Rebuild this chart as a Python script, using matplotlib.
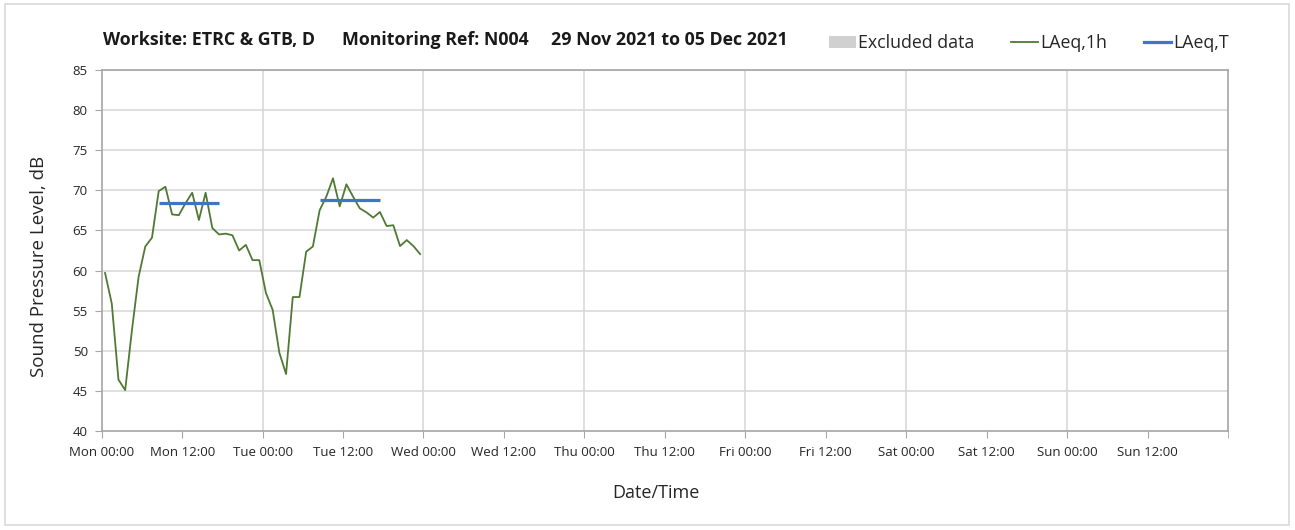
import matplotlib
matplotlib.use("Agg")
import matplotlib.pyplot as plt
from matplotlib.patches import Patch, Rectangle
from matplotlib.lines import Line2D
import numpy as np

# ---- data ----
hours = list(range(48))  # hourly periods starting Mon 00:00
laeq_1h = [59.7, 55.9, 46.4, 45.1, 52.5, 59.2, 63.0, 64.1, 69.9, 70.45,
           67.0, 66.9, 68.4, 69.7, 66.3, 69.7, 65.3, 64.5, 64.6, 64.4,
           62.5, 63.2, 61.3, 61.3, 57.2, 55.1, 49.75, 47.1, 56.7, 56.7,
           62.35, 63.0, 67.5, 69.2, 71.5, 68.0, 70.75, 69.2, 67.75, 67.25,
           66.6, 67.3, 65.55, 65.65, 63.05, 63.8, 63.05, 62.05]
laeq_T_hours = [[8, 17], [32, 41]]
laeq_T_values = [68.4, 68.8]
tick_labels = ["Mon 00:00", "Mon 12:00", "Tue 00:00", "Tue 12:00", "Wed 00:00",
               "Wed 12:00", "Thu 00:00", "Thu 12:00", "Fri 00:00", "Fri 12:00",
               "Sat 00:00", "Sat 12:00", "Sun 00:00", "Sun 12:00"]
title_parts = ["Worksite: ETRC & GTB, D", "Monitoring Ref: N004",
               "29 Nov 2021 to 05 Dec 2021"]

plt.rcParams['font.family'] = ['Open Sans', 'DejaVu Sans']

W, H = 1295, 530
fig = plt.figure(figsize=(W / 100, H / 100), dpi=100)
ax = fig.add_axes([101.7 / W, 1 - 431 / H, (1228 - 101.7) / W, (431 - 70) / H])

green = '#4f7a34'
blue = '#4472c4'
grid_c = '#d9d9d9'
spine_c = '#a6a6a6'
text_c = '#262626'

x = np.array(hours) + 0.5
ax.plot(x, laeq_1h, color=green, lw=1.3, zorder=3)
for (h0, h1), v in zip(laeq_T_hours, laeq_T_values):
    ax.plot([h0 + 0.5, h1 + 0.5], [v, v], color=blue, lw=2.3, zorder=4,
            solid_capstyle='butt')

ax.set_xlim(0, 168)
ax.set_ylim(40, 85)
ax.set_yticks(np.arange(40, 86, 5))
ax.set_xticks(np.arange(0, 168, 12))
ax.set_xticklabels(tick_labels)
ax.set_xticks(np.arange(0, 169, 24), minor=True)

ax.grid(False)
for yv in np.arange(45, 86, 5):
    ax.axhline(yv, color=grid_c, lw=1.2, zorder=1)
for xv in np.arange(24, 168, 24):
    ax.axvline(xv, color=grid_c, lw=1.2, zorder=1)

for s in ax.spines.values():
    s.set_color(spine_c)
    s.set_linewidth(1.2)

ax.tick_params(axis='x', which='major', length=5, color=spine_c, labelsize=9.5,
               labelcolor=text_c, pad=6)
ax.tick_params(axis='x', which='minor', length=5, color=spine_c)
ax.tick_params(axis='y', length=5, color=spine_c, labelsize=9.5,
               labelcolor=text_c, pad=5)

ax.set_ylabel("Sound Pressure Level, dB", fontsize=13.5, color=text_c)
ax.yaxis.set_label_coords((39 - 101.7) / (1228 - 101.7), (431 - 266) / 361)
ax.set_xlabel("Date/Time", fontsize=13, color=text_c)
ax.xaxis.set_label_coords((656 - 101.7) / (1228 - 101.7), -(493 - 431) / 361)
ax.xaxis.label.set_va('center')
ax.yaxis.label.set_va('center')

for px, t in zip([103, 342, 551], title_parts):
    fig.text(px / W, 1 - 40 / H, t, fontsize=12.8, fontweight='bold',
             color='#1a1a1a', va='center', ha='left')

handles = [Patch(facecolor='#d0d0d0', edgecolor='none'),
           Line2D([], [], color=green, lw=1.3),
           Line2D([], [], color=blue, lw=2.3)]
labels = ["Excluded data", "LAeq,1h", "LAeq,T"]
leg = fig.legend(handles, labels, loc='center left', bbox_to_anchor=(813 / W, 1 - 43 / H),
                 ncol=3, frameon=False, fontsize=12.8, handlelength=1.5,
                 handletextpad=0.15, columnspacing=2.05, labelcolor=text_c)

fig.patches.append(Rectangle((5 / W, 1 - 525 / H), (1289 - 5) / W, (525 - 4) / H,
                             transform=fig.transFigure, fill=False,
                             edgecolor='#d9d9d9', lw=1.2))

fig.savefig("out.png", dpi=100)
